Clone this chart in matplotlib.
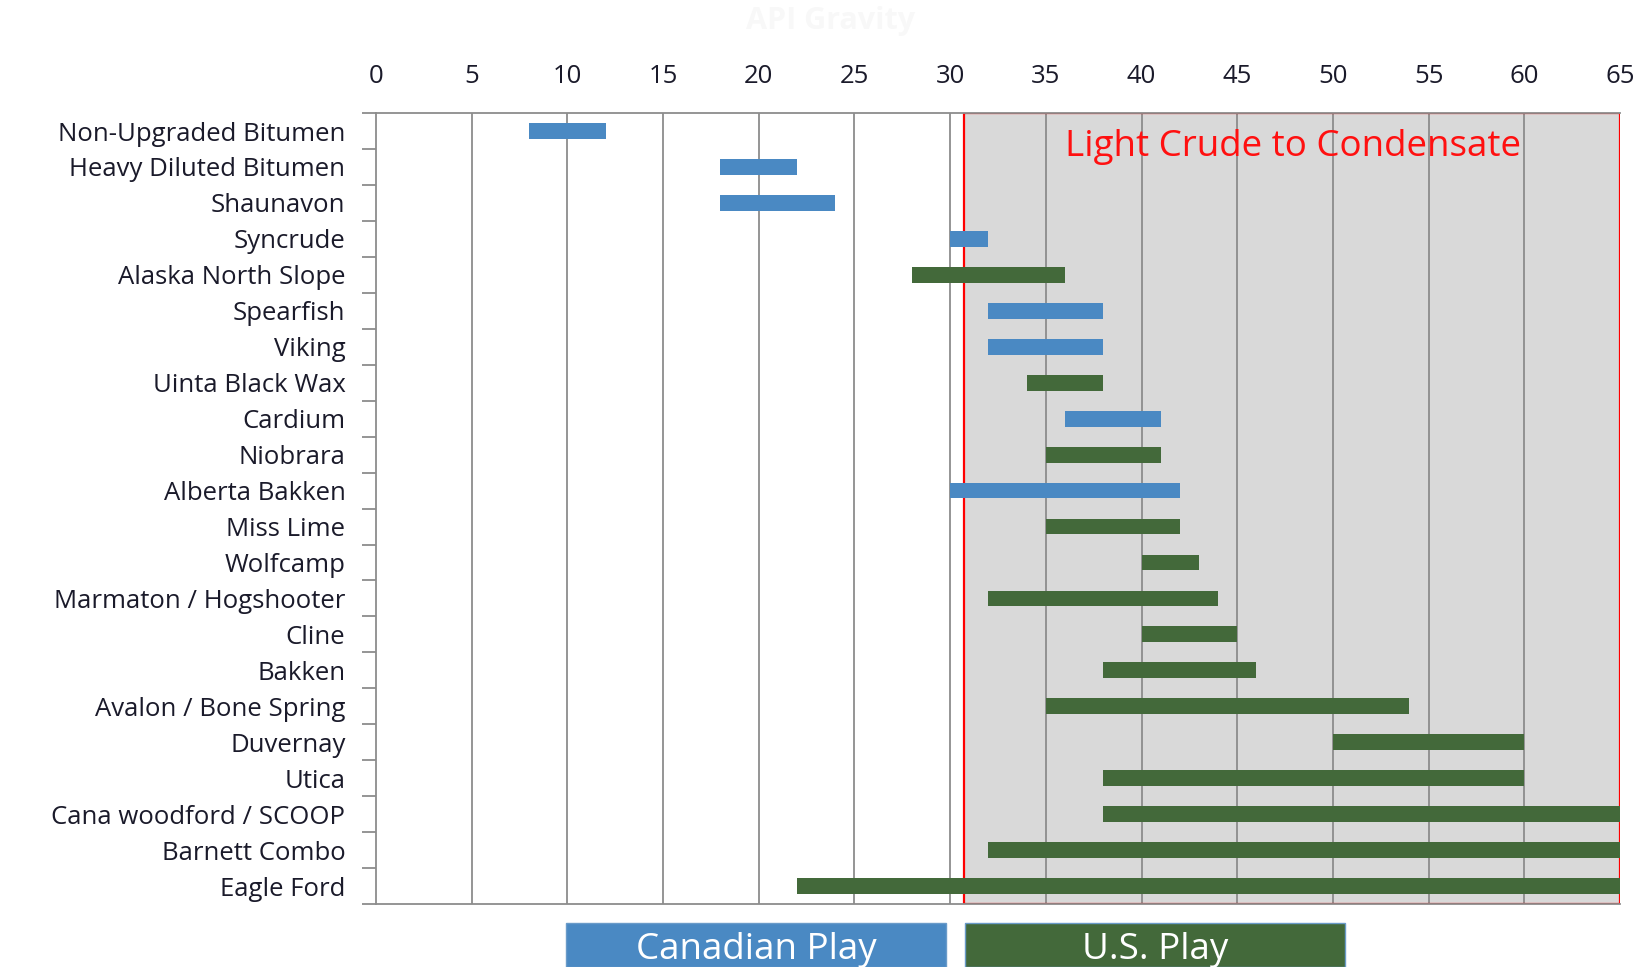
import matplotlib
matplotlib.use("Agg")
import matplotlib.pyplot as plt
from matplotlib.patches import Rectangle

plt.rcParams['font.family'] = ['Open Sans', 'DejaVu Sans']

# plays from top to bottom, with their API gravity ranges
plays = ['Non-Upgraded Bitumen', 'Heavy Diluted Bitumen', 'Shaunavon', 'Syncrude',
         'Alaska North Slope', 'Spearfish', 'Viking', 'Uinta Black Wax', 'Cardium',
         'Niobrara', 'Alberta Bakken', 'Miss Lime', 'Wolfcamp', 'Marmaton / Hogshooter',
         'Cline', 'Bakken', 'Avalon / Bone Spring', 'Duvernay', 'Utica',
         'Cana woodford / SCOOP', 'Barnett Combo', 'Eagle Ford']
api_low = [8, 18, 18, 30, 28, 32, 32, 34, 36, 35, 30, 35, 40, 32, 40, 38, 35, 50, 38, 38, 32, 22]
api_high = [12, 22, 24, 32, 36, 38, 38, 38, 41, 41, 42, 42, 43, 44, 45, 46, 54, 60, 60, 65, 65, 65]
origin = ['CA', 'CA', 'CA', 'CA', 'US', 'CA', 'CA', 'US', 'CA', 'US', 'CA', 'US', 'US',
          'US', 'US', 'US', 'US', 'US', 'US', 'US', 'US', 'US']

light_start = 30.75
x_ticks = list(range(0, 66, 5))

colors = {'CA': '#4A89C3', 'US': '#43693A'}
grid_gray = '#8C8C8C'

fig = plt.figure(figsize=(16.52, 9.67), dpi=100)
ax = fig.add_axes([0.2276, 0.0651, 0.7530, 0.8180])

n = len(plays)
ypos = list(range(n))
widths = [h - l for l, h in zip(api_low, api_high)]
bar_colors = [colors[o] for o in origin]
ax.barh(ypos, widths, left=api_low, height=0.44, color=bar_colors, zorder=3)

ax.set_xlim(0, 65)
ax.set_ylim(n - 0.5, -0.5)

# shaded "light crude" zone
ax.add_patch(Rectangle((light_start, -0.5), 65 - light_start, n, facecolor='#D9D9D9',
                       edgecolor='none', zorder=0.5))
ax.add_patch(Rectangle((light_start, -0.5), 65 - light_start, n, facecolor='none',
                       edgecolor='#FF0000', linewidth=1.6, zorder=2))
ax.text(47.9, 0.45, 'Light Crude to Condensate', color='#FF1010', fontsize=26.5,
        ha='center', va='center', zorder=4)

for x in x_ticks[1:]:
    ax.axvline(x, color=grid_gray, linewidth=1.3, zorder=1)

ax.xaxis.tick_top()
ax.set_xticks(x_ticks)
ax.set_xticklabels([str(v) for v in x_ticks], fontsize=18.5, color='#1a1a2a')
ax.tick_params(axis='x', which='major', length=0, pad=17)
# bottom tick marks
ax.set_xticks(x_ticks, minor=True)
ax.tick_params(axis='x', which='minor', bottom=True, top=False, length=10,
               color=grid_gray, width=1.3, direction='out')

ax.set_yticks(ypos)
ax.set_yticklabels(plays, fontsize=18.5, color='#1a1a2a')
ax.tick_params(axis='y', which='major', length=0, pad=22)
ax.set_yticks([i + 0.5 for i in range(-1, n)], minor=True)
ax.tick_params(axis='y', which='minor', left=True, length=10, color=grid_gray, width=1.3)

for side in ['left', 'top', 'bottom']:
    ax.spines[side].set_color(grid_gray)
    ax.spines[side].set_linewidth(1.3)
ax.spines['right'].set_visible(False)

# faint title
fig.text(0.503, 0.978, 'API Gravity', ha='center', va='center', fontsize=22,
         fontweight='bold', color='#F8F8F8')

# legend boxes along the bottom
legend_items = [('Canadian Play', colors['CA'], 566), ('U.S. Play', colors['US'], 965)]
for label, col, x0 in legend_items:
    box = Rectangle((x0 / 1652, 0), 380 / 1652, 44 / 967, transform=fig.transFigure,
                    facecolor=col, edgecolor='#6A9BC9', linewidth=1)
    fig.add_artist(box)
    fig.text((x0 + 190) / 1652, 17 / 967, label, ha='center', va='center',
             fontsize=26.5, color='white')

fig.savefig('out.png', dpi=100)
